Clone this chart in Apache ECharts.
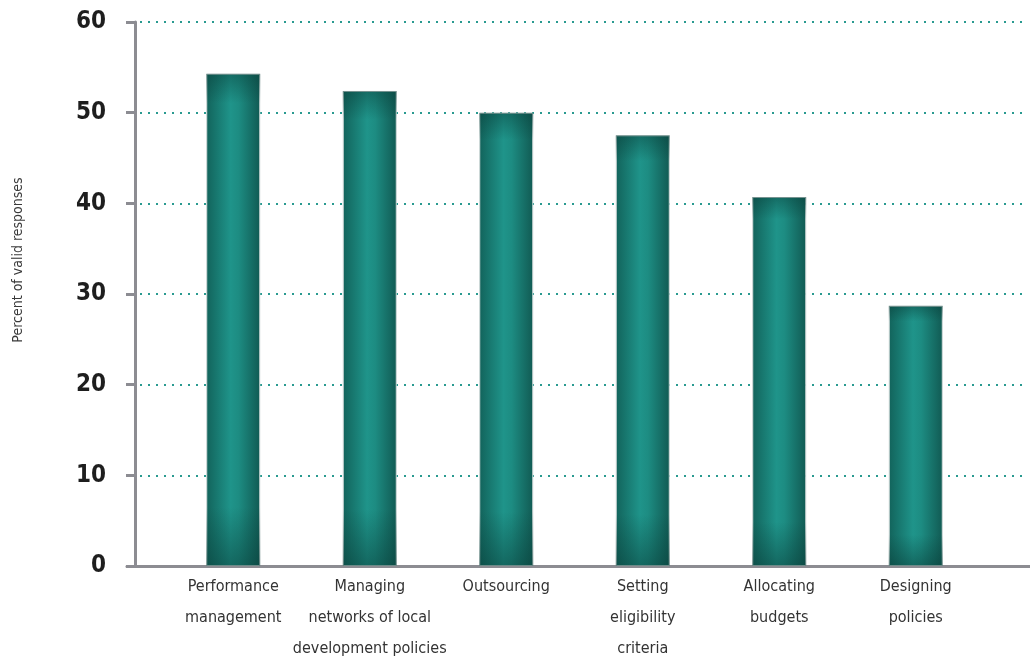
<!DOCTYPE html>
<html>
<head>
<meta charset="utf-8">
<script src="https://cdn.jsdelivr.net/npm/echarts@6/dist/echarts.min.js"></script>
<style>
  html, body { margin: 0; padding: 0; background: #ffffff; }
  #chart { width: 1030px; height: 657px; }
</style>
</head>
<body>
<div id="chart"></div>
<script>
// Tasks and the share of valid responses naming each one
const categories = [
  'Performance\nmanagement',
  'Managing\nnetworks of local\ndevelopment policies',
  'Outsourcing',
  'Setting\neligibility\ncriteria',
  'Allocating\nbudgets',
  'Designing\npolicies'
];
const percentValues = [54.3, 52.4, 50.0, 47.5, 40.7, 28.7];
const yTicks = { min: 0, max: 60, interval: 10 };
const yTitle = 'Percent of valid responses';

const FONT = '"Liberation Sans Narrow", "DejaVu Sans Condensed", "Arial Narrow", sans-serif';
const AXIS_GREY = '#8c8c92';

const chart = echarts.init(document.getElementById('chart'), null, { renderer: 'canvas' });

// Body of each bar: darker edges, lighter middle (cylindrical look)
const barBody = new echarts.graphic.LinearGradient(0, 0, 1, 0, [
  { offset: 0, color: '#12635b' },
  { offset: 0.45, color: '#1f948a' },
  { offset: 0.6, color: '#1d8c82' },
  { offset: 1, color: '#115a53' }
]);
// Shading at the top and bottom ends of each bar
const barEnds = new echarts.graphic.LinearGradient(0, 0, 0, 1, [
  { offset: 0, color: 'rgba(8,60,55,0.45)' },
  { offset: 0.06, color: 'rgba(8,60,55,0.0)' },
  { offset: 0.88, color: 'rgba(8,60,55,0.0)' },
  { offset: 1, color: 'rgba(8,60,55,0.5)' }
]);

const gridBase = { top: 22, bottom: 91, containLabel: false, outerBoundsMode: 'none' };

const option = {
  backgroundColor: '#ffffff',
  animation: false,
  grid: [
    // dotted guide lines
    Object.assign({ left: 140, right: 8 }, gridBase),
    // axis frame: left and bottom axis lines, y tick labels
    Object.assign({ left: 127, right: 0 }, gridBase),
    // bars and category labels
    Object.assign({ left: 165, right: 46 }, gridBase)
  ],
  xAxis: [
    { gridIndex: 0, type: 'value', show: false },
    {
      gridIndex: 1, type: 'value', min: 0, max: 1,
      axisLine: { show: true, lineStyle: { color: AXIS_GREY, width: 3 } },
      axisTick: { show: false }, axisLabel: { show: false }, splitLine: { show: false }
    },
    {
      gridIndex: 2, type: 'category', data: categories,
      axisLine: { show: false }, axisTick: { show: false },
      axisLabel: {
        interval: 0, margin: 5,
        fontFamily: FONT, fontSize: 16, color: '#333333', lineHeight: 31
      }
    }
  ],
  yAxis: [
    {
      gridIndex: 0, type: 'value', min: yTicks.min, max: yTicks.max, interval: yTicks.interval,
      axisLine: { show: false }, axisTick: { show: false }, axisLabel: { show: false },
      splitLine: { show: true, lineStyle: { color: '#2a9a90', width: 2, type: [2, 6] } }
    },
    {
      gridIndex: 1, type: 'value', min: yTicks.min, max: yTicks.max, interval: yTicks.interval,
      offset: -8,
      axisLine: { show: true, lineStyle: { color: AXIS_GREY, width: 3 } },
      axisTick: { show: true, length: 9, lineStyle: { color: AXIS_GREY, width: 3 } },
      axisLabel: {
        margin: 29, fontFamily: FONT, fontSize: 24, fontWeight: 'bold', color: '#1e1e1e'
      },
      splitLine: { show: false }
    },
    {
      gridIndex: 2, type: 'value', min: yTicks.min, max: yTicks.max, interval: yTicks.interval,
      show: false
    }
  ],
  graphic: [
    {
      type: 'text', rotation: Math.PI / 2,
      x: 18, y: 260,
      style: {
        text: yTitle, fontFamily: FONT, fontSize: 14, fill: '#3a3a3a',
        align: 'center', verticalAlign: 'middle'
      }
    }
  ],
  series: [
    {
      type: 'bar', xAxisIndex: 2, yAxisIndex: 2, data: percentValues,
      barWidth: 54,
      itemStyle: { color: barBody, borderColor: '#cfd8d7', borderWidth: 1 }
    },
    {
      type: 'bar', xAxisIndex: 2, yAxisIndex: 2, data: percentValues,
      barWidth: 54, barGap: '-100%', silent: true,
      itemStyle: { color: barEnds }
    }
  ]
};

chart.setOption(option);
</script>
</body>
</html>
